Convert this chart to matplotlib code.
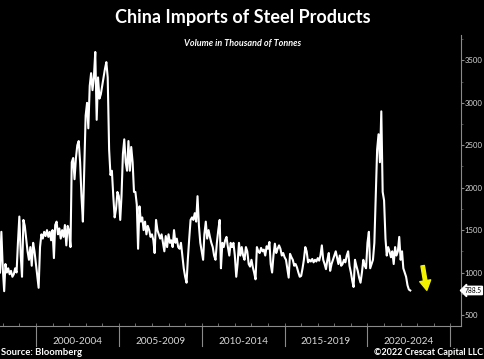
import matplotlib
matplotlib.use("Agg")
import matplotlib.pyplot as plt
import matplotlib.transforms as mtransforms
import pandas as pd

# monthly imports, thousand tonnes, starting Nov 1997
imports = [
    1000, 1480, 1050, 780, 1100, 1000, 1050, 980, 1020, 950, 980, 1050,
    1000, 1350, 1660, 1200, 950, 1620, 1550, 1400, 1250, 1150, 1300, 1080,
    1350, 1250, 1100, 950, 820, 1300, 1450, 1400, 1480, 1430, 1500, 1420,
    1480, 1380, 1500, 1170, 1560, 1600, 1450, 1520, 1400, 1500, 1420, 1560,
    1320, 1550, 1490, 1300, 2300, 2350, 2100, 2350, 2500, 2550, 2300, 1900,
    1600, 2200, 2850, 3000, 2700, 3200, 3350, 3150, 3300, 3600, 2800, 3300,
    3050, 3100, 3200, 3300, 3400, 3480, 3300, 2450, 2150, 2200, 1900, 1650,
    1750, 1950, 1900, 1620, 1900, 2400, 2570, 2300, 2200, 2550, 2200, 2480,
    2300, 1950, 1950, 1800, 1280, 1780, 1600, 1650, 1500, 1600, 1450, 1550,
    1500, 1420, 1450, 1380, 1230, 1620, 1500, 1450, 1400, 1450, 1350, 1250,
    1430, 1300, 1450, 1350, 1380, 1300, 1500, 1350, 1400, 1300, 1280, 1350,
    1200, 1050, 950, 880, 1150, 1400, 1620, 1650, 1620, 1700, 1600, 1900,
    1550, 1350, 1250, 1150, 1450, 1600, 1400, 1500, 1420, 1350, 1300, 1200,
    1150, 1350, 1500, 1620, 1050, 1350, 1300, 1380, 1420, 1300, 1200, 1350,
    1300, 1350, 1200, 950, 1100, 1350, 1200, 1300, 1200, 1150, 1300, 1250,
    1100, 1070, 1150, 1060, 1000, 920, 1300, 1250, 1230, 1290, 1250, 1270,
    1200, 1310, 1280, 1360, 1100, 1000, 1200, 1340, 1230, 1280, 1320, 1280,
    1200, 1230, 1180, 1150, 1050, 940, 1220, 1180, 1150, 1080, 1100, 1060,
    1000, 950, 960, 1050, 1150, 1300, 1250, 1120, 1150, 1130, 1160, 1120,
    1150, 1130, 1170, 1140, 1200, 1320, 1150, 1100, 1040, 1150, 1230, 1020,
    1100, 1150, 1200, 1250, 1180, 1100, 1200, 1080, 1100, 1150, 1120, 1200,
    1250, 1080, 1000, 900, 830, 1150, 1080, 1020, 940, 880, 1000, 1150,
    1080, 1050, 1350, 1480, 1050, 1100, 1150, 1350, 1900, 2450, 2630, 2300,
    2900, 1950, 1850, 1400, 1200, 1300, 1250, 1180, 1250, 1100, 1300, 1200,
    1250, 1420, 1150, 1250, 1050, 1000, 950, 850, 800, 788.5,
]
months = pd.date_range("1997-11-01", periods=len(imports), freq="MS")

period_starts = [2000, 2005, 2010, 2015, 2020, 2025]
period_labels = ["2000-2004", "2005-2009", "2010-2014", "2015-2019", "2020-2024"]
y_ticks = [500, 1000, 1500, 2000, 2500, 3000, 3500]
last_value = imports[-1]

plt.rcParams["font.family"] = ["Lato", "DejaVu Sans"]

fig = plt.figure(figsize=(4.85, 3.59), dpi=100, facecolor="black")
ax = fig.add_axes([0.0, 0.092, 0.951, 0.8105], facecolor="black")

ax.plot(months, imports, color="white", linewidth=1.5)

ax.set_xlim(pd.Timestamp("1997-11-01"), pd.Timestamp("2025-08-28"))
ax.set_ylim(370, 3800)

for side in ["top", "left"]:
    ax.spines[side].set_visible(False)
ax.spines["right"].set_color("#8a8a8a")
ax.spines["bottom"].set_color("#8a8a8a")
ax.spines["right"].set_linewidth(0.8)
ax.spines["bottom"].set_linewidth(0.8)

ax.yaxis.tick_right()
ax.set_yticks(y_ticks)
ax.set_yticklabels([str(v) for v in y_ticks])
ax.set_yticks(range(750, 3800, 500), minor=True)
ax.tick_params(axis="y", which="major", colors="#8a8a8a", labelcolor="#d8d8d8",
               labelsize=5.6, length=2, width=0.8, pad=0.5)
ax.tick_params(axis="y", which="minor", colors="#555555", length=1.5, width=0.6)

# yearly minor ticks along the bottom
ax.set_xticks([pd.Timestamp(f"{y}-01-01") for y in range(1998, 2026)], minor=True)
ax.set_xticks([])
ax.tick_params(axis="x", which="minor", direction="in", colors="#707070",
               length=2.5, width=0.7)

trans = mtransforms.blended_transform_factory(ax.transData, ax.transAxes)
for y in period_starts:
    d = pd.Timestamp(f"{y}-01-01")
    ax.plot([d, d], [0, -0.07], color="#8a8a8a", linewidth=0.8,
            transform=trans, clip_on=False)
for y, lab in zip(period_starts[:-1], period_labels):
    mid = pd.Timestamp(f"{y + 2}-07-01")
    ax.text(mid, -0.052, lab, transform=trans, ha="center", va="center",
            color="#d8d8d8", fontsize=7.2)

# last value tag on the right axis
ax.annotate(f"{last_value:.1f}", xy=(1.0, last_value),
            xycoords=("axes fraction", "data"), xytext=(2.5, 0),
            textcoords="offset points", ha="left", va="center",
            fontsize=4.8, color="black",
            bbox=dict(boxstyle="larrow,pad=0.1", fc="white", ec="white"))

# yellow arrow
ax.annotate("", xy=(pd.Timestamp("2023-08-01"), 790),
            xytext=(pd.Timestamp("2023-05-01"), 1080),
            arrowprops=dict(facecolor="#f2f200", edgecolor="#f2f200",
                            width=2.5, headwidth=8, headlength=7))

fig.text(0.5, 0.952, "China Imports of Steel Products", ha="center", va="center",
         color="white", fontsize=13, fontweight="bold")
fig.text(0.5, 0.88, "Volume in Thousand of Tonnes", ha="center", va="center",
         color="white", fontsize=6.5, fontweight="bold", style="italic")
fig.text(0.002, 0.017, "Source: Bloomberg", ha="left", va="center",
         color="white", fontsize=6.8, fontweight="bold")
fig.text(0.997, 0.017, "\u00a92022 Crescat Capital LLC", ha="right", va="center",
         color="white", fontsize=6.5, fontweight="bold")

fig.savefig("out.png", dpi=100, facecolor="black")
